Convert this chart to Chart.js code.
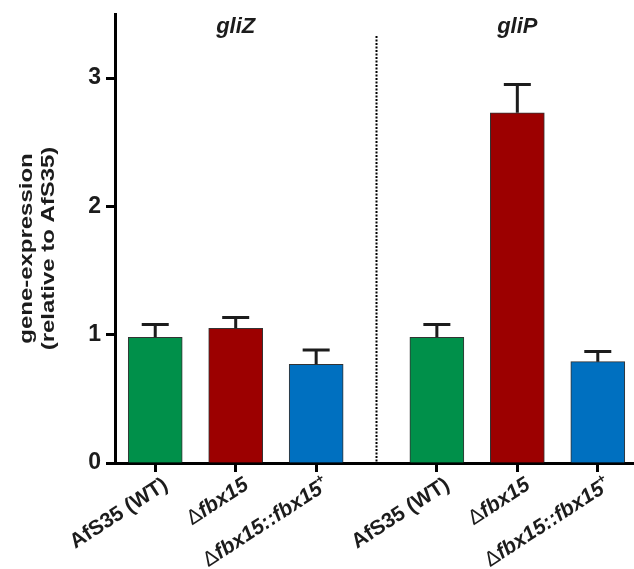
<!DOCTYPE html>
<html>
<head>
<meta charset="utf-8">
<script src="https://cdn.jsdelivr.net/npm/chart.js@4"></script>
<style>
  html, body { margin: 0; padding: 0; background: #fff; }
</style>
</head>
<body>
<canvas id="myChart" width="634" height="569"></canvas>
<script>
// two genes, three strains each
const genes = ['gliZ', 'gliP'];
const strains = ['AfS35 (WT)', 'Δfbx15', 'Δfbx15::fbx15+'];
const xPositions = [0, 1, 2, 3.5, 4.5, 5.5];
const meanValues = [0.98, 1.05, 0.77, 0.98, 2.73, 0.79];
const errorValues = [0.10, 0.085, 0.11, 0.10, 0.22, 0.08];
const yTicks = [0, 1, 2, 3];
const barColors = ['#00904a', '#9c0000', '#0070c0'];

const FONT = '"Liberation Sans", Arial, sans-serif';
const INK = '#1c1c1c';

// split a strain name into styled runs: delta plain, gene names italic, trailing + raised
function labelParts(name) {
  const parts = [];
  let rest = name;
  if (rest.startsWith('Δ')) {
    parts.push({ text: 'Δ', style: 'normal' });
    rest = rest.slice(1);
    let sup = null;
    if (rest.endsWith('+')) { sup = '+'; rest = rest.slice(0, -1); }
    parts.push({ text: rest, style: 'italic bold' });
    if (sup) parts.push({ text: sup, style: 'bold', sup: true });
  } else {
    parts.push({ text: rest, style: 'bold' });
  }
  return parts;
}

function drawParts(ctx, parts, size) {
  const fontOf = p => p.style + ' ' + (p.sup ? Math.round(size * 0.6) : size) + 'px ' + FONT;
  let total = 0;
  parts.forEach(p => { ctx.font = fontOf(p); total += ctx.measureText(p.text).width; });
  let x = -total;
  parts.forEach(p => {
    ctx.font = fontOf(p);
    ctx.fillText(p.text, x, p.sup ? -size * 0.45 : 0);
    x += ctx.measureText(p.text).width;
  });
}

const errorBars = {
  id: 'errorBars',
  afterDatasetsDraw(chart) {
    const { ctx, scales: { y } } = chart;
    const meta = chart.getDatasetMeta(0);
    ctx.save();
    ctx.strokeStyle = INK;
    ctx.lineWidth = 3;
    meta.data.forEach((bar, i) => {
      const top = y.getPixelForValue(meanValues[i] + errorValues[i]);
      ctx.beginPath();
      ctx.moveTo(bar.x, bar.y);
      ctx.lineTo(bar.x, top);
      ctx.moveTo(bar.x - 13.5, top);
      ctx.lineTo(bar.x + 13.5, top);
      ctx.stroke();
    });
    ctx.restore();
  }
};

const decorations = {
  id: 'decorations',
  afterDraw(chart) {
    const { ctx, chartArea, scales: { x } } = chart;
    ctx.save();
    ctx.fillStyle = INK;

    // strain names under each bar, rotated
    xPositions.forEach((v, i) => {
      const px = x.getPixelForValue(v);
      ctx.save();
      ctx.translate(px + 14, chartArea.bottom + 25);
      ctx.rotate(-33 * Math.PI / 180);
      ctx.textBaseline = 'alphabetic';
      drawParts(ctx, labelParts(strains[i % 3]), 21);
      ctx.restore();
    });

    // gene names over each group
    ctx.font = 'italic bold 22px ' + FONT;
    ctx.textAlign = 'center';
    ctx.textBaseline = 'middle';
    genes.forEach((g, k) => {
      ctx.fillText(g, x.getPixelForValue(xPositions[k * 3 + 1]), 27);
    });

    // dotted separator between the groups
    const sepX = x.getPixelForValue((xPositions[2] + xPositions[3]) / 2);
    ctx.strokeStyle = '#000';
    ctx.lineWidth = 2;
    ctx.setLineDash([2, 1.5]);
    ctx.beginPath();
    ctx.moveTo(sepX, 36);
    ctx.lineTo(sepX, chartArea.bottom);
    ctx.stroke();
    ctx.setLineDash([]);

    // y axis title, two lines, stretched along its length
    const midY = (chartArea.top + chartArea.bottom) / 2 + 10;
    ctx.font = 'bold 18px ' + FONT;
    ctx.textAlign = 'center';
    [['gene-expression', 27], ['(relative to AfS35)', 49]].forEach(([t, cx]) => {
      ctx.save();
      ctx.translate(cx, midY);
      ctx.rotate(-Math.PI / 2);
      ctx.scale(1.33, 1);
      ctx.fillText(t, 0, 0);
      ctx.restore();
    });
    ctx.restore();
  }
};

const chartData = {
  datasets: [{
    data: xPositions.map((v, i) => ({ x: v, y: meanValues[i] })),
    backgroundColor: xPositions.map((v, i) => barColors[i % 3]),
    borderColor: '#333',
    borderWidth: 1,
    barThickness: 54
  }]
};

const config = {
  type: 'bar',
  data: chartData,
  options: {
    responsive: false,
    animation: false,
    layout: { padding: { top: 14, right: 0, left: 0, bottom: 0 } },
    plugins: { legend: { display: false }, tooltip: { enabled: false } },
    scales: {
      x: {
        type: 'linear',
        min: -0.5,
        max: 5.95,
        offset: false,
        afterBuildTicks: s => { s.ticks = xPositions.map(v => ({ value: v })); },
        afterFit: s => { s.height = 106; s.paddingLeft = 0; s.paddingRight = 0; },
        ticks: { display: false },
        grid: { offset: false, drawOnChartArea: false, drawTicks: true, tickLength: 9, tickWidth: 3, tickColor: '#000' },
        border: { display: true, width: 3, color: '#000' }
      },
      y: {
        min: 0,
        max: 3.5,
        afterBuildTicks: s => { s.ticks = yTicks.map(v => ({ value: v })); },
        afterFit: s => { s.width = 115; s.paddingTop = 0; s.paddingBottom = 0; },
        ticks: { color: INK, padding: 5, font: { family: FONT, size: 23, weight: 'bold' } },
        grid: { drawOnChartArea: false, drawTicks: true, tickLength: 9, tickWidth: 3, tickColor: '#000' },
        border: { display: true, width: 3, color: '#000' }
      }
    }
  },
  plugins: [errorBars, decorations]
};

new Chart(document.querySelector('#myChart'), config);
</script>
</body>
</html>
